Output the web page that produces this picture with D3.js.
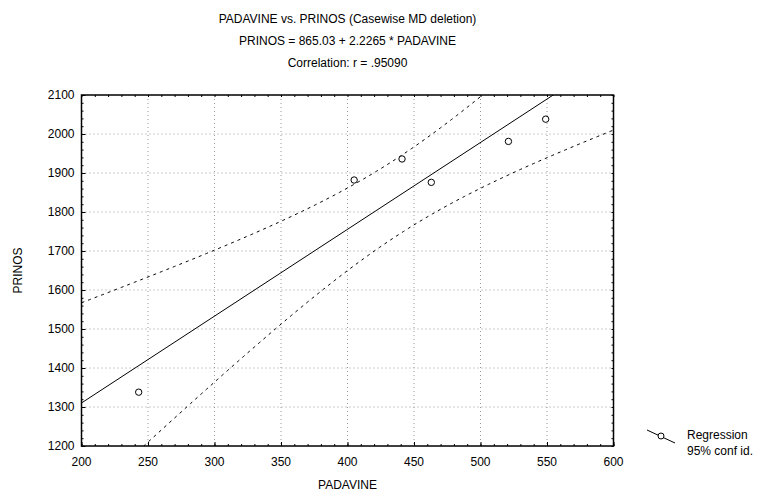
<!DOCTYPE html>
<html>
<head>
<meta charset="utf-8">
<script src="https://cdn.jsdelivr.net/npm/d3@7"></script>
<style>
  body { margin: 0; background: #fff; }
  svg { display: block; font-family: "Liberation Sans", Arial, sans-serif; }
  .grid line { stroke: #999; stroke-dasharray: 1,3; }
</style>
</head>
<body>
<svg id="chart" width="769" height="497"></svg>
<script>
const padavine = [243, 405, 441, 463, 521, 549];
const prinos = [1338, 1882, 1936, 1876, 1981, 2038];

// fit given in the title
const intercept = 865.03;
const slope = 2.2265;
const tCrit = 2.776; // t(0.975, df = 4)

const titleLines = [
  "PADAVINE vs. PRINOS (Casewise MD deletion)",
  "PRINOS = 865.03 + 2.2265 * PADAVINE",
  "Correlation: r = .95090"
];
const xTicks = [200, 250, 300, 350, 400, 450, 500, 550, 600];
const yTicks = [1200, 1300, 1400, 1500, 1600, 1700, 1800, 1900, 2000, 2100];
const legendLabels = ["Regression", "95% conf id."];

function whenDocumentLoaded(action) {
  if (document.readyState === "loading") {
    document.addEventListener("DOMContentLoaded", action);
  } else {
    action();
  }
}

whenDocumentLoaded(() => {
  const svg = d3.select("#chart");
  const left = 81.5, right = 613.5, top = 95, bottom = 446;

  const x = d3.scaleLinear().domain([200, 600]).range([left, right]);
  const y = d3.scaleLinear().domain([1200, 2100]).range([bottom, top]);

  // titles
  svg.selectAll("text.title")
     .data(titleLines)
     .enter()
     .append("text")
     .attr("class", "title")
     .attr("x", (left + right) / 2)
     .attr("y", (d, i) => 23 + i * 22)
     .attr("text-anchor", "middle")
     .style("font-size", "12px")
     .text(d => d);

  // dotted grid
  svg.append("g").attr("class", "grid")
     .selectAll("line")
     .data(xTicks.slice(1, -1))
     .enter()
     .append("line")
     .attr("x1", d => x(d)).attr("x2", d => x(d))
     .attr("y1", top).attr("y2", bottom);
  svg.append("g").attr("class", "grid")
     .selectAll("line")
     .data(yTicks.slice(1, -1))
     .enter()
     .append("line")
     .attr("y1", d => y(d)).attr("y2", d => y(d))
     .attr("x1", left).attr("x2", right);

  // clip for the fitted lines
  svg.append("clipPath").attr("id", "plot-clip")
     .append("rect")
     .attr("x", left).attr("y", top)
     .attr("width", right - left).attr("height", bottom - top);

  const n = padavine.length;
  const meanX = d3.mean(padavine);
  const sxx = d3.sum(padavine, v => (v - meanX) ** 2);
  const sse = d3.sum(padavine, (v, i) => (prinos[i] - (intercept + slope * v)) ** 2);
  const s = Math.sqrt(sse / (n - 2));
  const fit = v => intercept + slope * v;
  const half = v => tCrit * s * Math.sqrt(1 / n + (v - meanX) ** 2 / sxx);
  const xs = d3.range(200, 601, 2);

  const plot = svg.append("g").attr("clip-path", "url(#plot-clip)");

  plot.append("path")
      .datum([200, 600])
      .attr("fill", "none")
      .attr("stroke", "#000")
      .attr("stroke-width", 1)
      .attr("d", d3.line().x(d => x(d)).y(d => y(fit(d))));

  [1, -1].forEach(sign => {
    plot.append("path")
        .datum(xs)
        .attr("fill", "none")
        .attr("stroke", "#000")
        .attr("stroke-width", 1)
        .attr("stroke-dasharray", "3,4")
        .attr("d", d3.line().x(d => x(d)).y(d => y(fit(d) + sign * half(d))));
  });

  // points
  svg.selectAll("circle.pt")
     .data(padavine)
     .enter()
     .append("circle")
     .attr("class", "pt")
     .attr("cx", d => x(d))
     .attr("cy", (d, i) => y(prinos[i]))
     .attr("r", 3.2)
     .attr("fill", "#fff")
     .attr("stroke", "#000")
     .attr("stroke-width", 1);

  // axes: frame + inward ticks on all four sides
  const xMinor = d3.range(200, 601, 10);
  const yMinor = d3.range(1200, 2101, 20);
  svg.append("g").attr("transform", `translate(0,${bottom})`)
     .call(d3.axisTop(x).tickValues(xMinor).tickSize(2).tickFormat(""));
  svg.append("g").attr("transform", `translate(0,${top})`)
     .call(d3.axisBottom(x).tickValues(xMinor).tickSize(2).tickFormat(""));
  svg.append("g").attr("transform", `translate(${left},0)`)
     .call(d3.axisRight(y).tickValues(yMinor).tickSize(2).tickFormat(""));
  svg.append("g").attr("transform", `translate(${right},0)`)
     .call(d3.axisLeft(y).tickValues(yMinor).tickSize(2).tickFormat(""));

  svg.append("g").attr("transform", `translate(0,${bottom})`)
     .call(d3.axisTop(x).tickValues(xTicks).tickSize(4).tickFormat(""));
  svg.append("g").attr("transform", `translate(${left},0)`)
     .call(d3.axisRight(y).tickValues(yTicks).tickSize(4).tickFormat(""));
  svg.selectAll(".domain").remove();

  svg.append("rect")
     .attr("x", left).attr("y", top)
     .attr("width", right - left).attr("height", bottom - top)
     .attr("fill", "none").attr("stroke", "#000").attr("stroke-width", 1.5);

  // tick labels
  svg.selectAll("text.xl")
     .data(xTicks)
     .enter()
     .append("text")
     .attr("class", "xl")
     .attr("x", d => x(d))
     .attr("y", bottom + 20)
     .attr("text-anchor", "middle")
     .style("font-size", "12px")
     .text(d => d);
  svg.selectAll("text.yl")
     .data(yTicks)
     .enter()
     .append("text")
     .attr("class", "yl")
     .attr("x", left - 7)
     .attr("y", d => y(d) + 4)
     .attr("text-anchor", "end")
     .style("font-size", "12px")
     .text(d => d);

  // axis titles
  svg.append("text")
     .attr("x", (left + right) / 2)
     .attr("y", 489)
     .attr("text-anchor", "middle")
     .style("font-size", "12px")
     .text("PADAVINE");
  svg.append("text")
     .attr("transform", `translate(22,${(top + bottom) / 2}) rotate(-90)`)
     .attr("text-anchor", "middle")
     .style("font-size", "12px")
     .text("PRINOS");

  // legend
  const lg = svg.append("g").attr("transform", "translate(647,430)");
  lg.append("line")
    .attr("x1", 0).attr("y1", 0).attr("x2", 28).attr("y2", 13)
    .attr("stroke", "#000");
  lg.append("circle")
    .attr("cx", 14).attr("cy", 6).attr("r", 3)
    .attr("fill", "#fff").attr("stroke", "#000");
  lg.selectAll("text")
    .data(legendLabels)
    .enter()
    .append("text")
    .attr("x", 40)
    .attr("y", (d, i) => 9 + i * 16)
    .style("font-size", "12px")
    .text(d => d);
});
</script>
</body>
</html>
